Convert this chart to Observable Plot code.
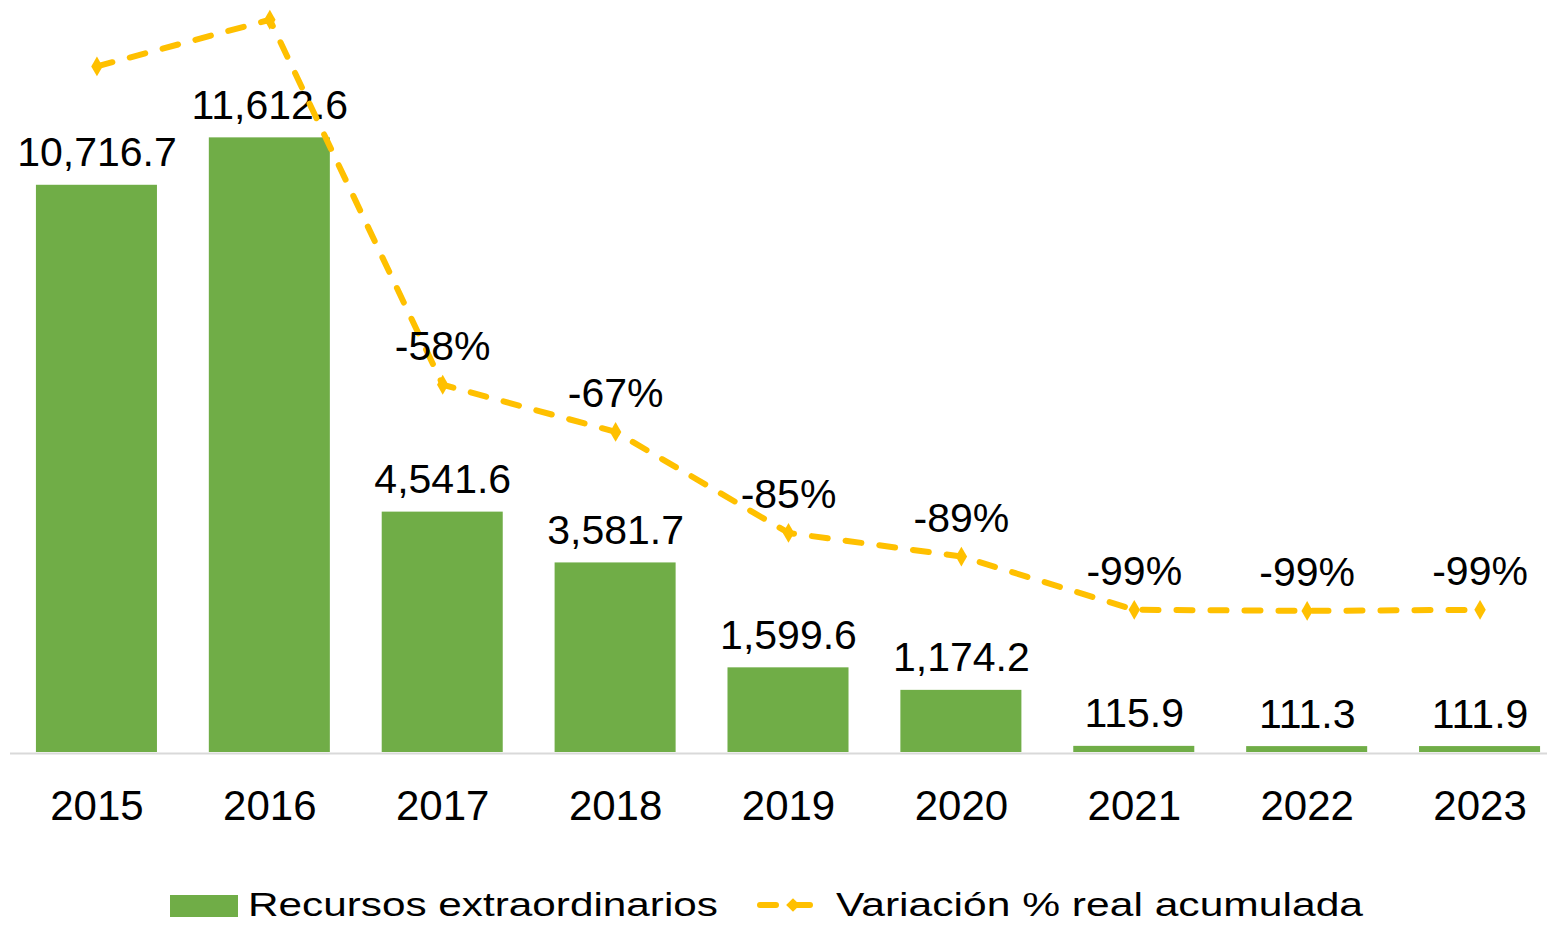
<!DOCTYPE html>
<html>
<head>
<meta charset="utf-8">
<script src="https://cdn.jsdelivr.net/npm/d3@7"></script>
<script src="https://cdn.jsdelivr.net/npm/@observablehq/plot@0.6"></script>
<style>
  html, body { margin: 0; padding: 0; background: #ffffff; }
  #chart { position: relative; width: 1547px; height: 860px; }
  #chart svg { position: absolute; left: 0; top: 0; overflow: visible; }
  #legend { display: block; }
</style>
</head>
<body>
<div id="chart"></div>
<svg id="legend" width="1547" height="65"></svg>
<script>
// ---- data ----
const years = ["2015", "2016", "2017", "2018", "2019", "2020", "2021", "2022", "2023"];
const recursos = [10716.7, 11612.6, 4541.6, 3581.7, 1599.6, 1174.2, 115.9, 111.3, 111.9];
const variacion = [0, 8.5, -58, -66.6, -85, -89.3, -99, -99.2, -99];
const variacionLabels = [null, null, "-58%", "-67%", "-85%", "-89%", "-99%", "-99%", "-99%"];
const seriesNames = ["Recursos extraordinarios", "Variación % real acumulada"];

const GREEN = "#70AD47";
const YELLOW = "#FFC000";
const FONT = "'Liberation Sans', Arial, sans-serif";

const barData = years.map((y, i) => ({year: y, value: recursos[i]}));
const lineData = years.map((y, i) => ({year: y, value: variacion[i], label: variacionLabels[i]}));

const W = 1547, H = 860;
const xScale = {type: "band", domain: years, range: [10, 1566], paddingInner: 0.3, paddingOuter: 0.15, round: false};
const yRange = [752, 11];

const fmt = d3.format(",.1f");

const barsPlot = Plot.plot({
  width: W, height: H,
  marginLeft: 10, marginRight: 0, marginTop: 11, marginBottom: 108,
  style: {fontFamily: FONT, color: "#000", background: "transparent"},
  x: {...xScale, label: null},
  y: {domain: [0, 14000], range: yRange, axis: null},
  marks: [
    Plot.barY(barData, {x: "year", y: "value", fill: GREEN}),
    Plot.ruleY([0], {stroke: "#D9D9D9", strokeWidth: 2, dy: 1}),
    Plot.text(barData, {x: "year", y: "value", text: d => fmt(d.value), lineAnchor: "bottom", dy: -19, fontSize: 41, fill: "#000"}),
    Plot.axisX({tickSize: 0, tickPadding: 38, fontSize: 42, label: null, fill: "#000"})
  ]
});

const linePlot = Plot.plot({
  width: W, height: H,
  marginLeft: 10, marginRight: 0, marginTop: 11, marginBottom: 108,
  style: {fontFamily: FONT, color: "#000", background: "transparent"},
  x: {...xScale, axis: null},
  y: {domain: [-125, 10], range: yRange, axis: null},
  marks: [
    Plot.line(lineData, {x: "year", y: "value", stroke: YELLOW, strokeWidth: 6, strokeDasharray: "16,18", strokeLinecap: "round", strokeLinejoin: "round"}),
    Plot.dot(lineData, {x: "year", y: "value", symbol: "diamond", r: 6, fill: YELLOW, stroke: null}),
    Plot.text(lineData.filter(d => d.label), {x: "year", y: "value", text: "label", lineAnchor: "bottom", dy: -25, fontSize: 41, fill: "#000"})
  ]
});

const chart = document.getElementById("chart");
chart.appendChild(barsPlot);
chart.appendChild(linePlot);

// ---- legend ----
const lg = d3.select("#legend");
lg.append("rect").attr("x", 170).attr("y", 35).attr("width", 68).attr("height", 22).attr("fill", GREEN);
lg.append("text").attr("x", 248).attr("y", 56)
  .attr("font-family", FONT).attr("font-size", 34)
  .attr("textLength", 470).attr("lengthAdjust", "spacingAndGlyphs")
  .attr("fill", "#000").text(seriesNames[0]);
lg.append("line").attr("x1", 760).attr("x2", 828).attr("y1", 45).attr("y2", 45)
  .attr("stroke", YELLOW).attr("stroke-width", 6).attr("stroke-dasharray", "16,18")
  .attr("stroke-linecap", "round");
lg.append("path").attr("d", d3.symbol(d3.symbolDiamond2 || d3.symbolDiamond, 120)()).attr("transform", "translate(793,45)").attr("fill", YELLOW);
lg.append("text").attr("x", 836).attr("y", 56)
  .attr("font-family", FONT).attr("font-size", 34)
  .attr("textLength", 527).attr("lengthAdjust", "spacingAndGlyphs")
  .attr("fill", "#000").text(seriesNames[1]);
</script>
</body>
</html>
